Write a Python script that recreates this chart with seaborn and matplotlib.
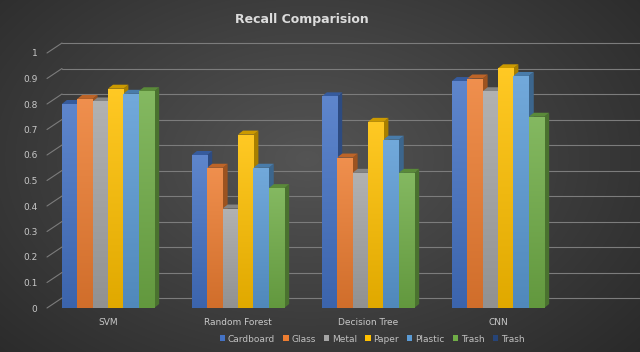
import numpy as np
import pandas as pd
import matplotlib
matplotlib.use("Agg")
import matplotlib.pyplot as plt
from matplotlib.patches import Polygon, Patch
from matplotlib.transforms import ScaledTranslation
from matplotlib.lines import Line2D
import matplotlib.colors as mcolors
import seaborn as sns

# ---- data ----
models = ["SVM", "Random Forest", "Decision Tree", "CNN"]
materials = ["Cardboard", "Glass", "Metal", "Paper", "Plastic", "Trash"]
cardboard = [0.80, 0.60, 0.83, 0.89]
glass = [0.82, 0.55, 0.59, 0.90]
metal = [0.81, 0.39, 0.53, 0.85]
paper = [0.86, 0.68, 0.73, 0.94]
plastic = [0.84, 0.55, 0.66, 0.91]
trash = [0.85, 0.47, 0.53, 0.75]
legend_labels = ["Cardboard", "Glass", "Metal", "Paper", "Plastic", "Trash", "Trash"]
y_ticks = [0, 0.1, 0.2, 0.3, 0.4, 0.5, 0.6, 0.7, 0.8, 0.9, 1]

colors = ["#4472C4", "#ED7D31", "#A5A5A5", "#FFC000", "#5B9BD5", "#70AD47", "#264478"]

series = [cardboard, glass, metal, paper, plastic, trash]
df = pd.DataFrame({
    "model": np.repeat([models], len(materials), axis=0).ravel(),
    "material": np.repeat(materials, len(models)),
    "recall": np.concatenate(series),
})

sns.set_theme(style="white")
plt.rcParams["font.family"] = ["DejaVu Sans"]

W, H = 640, 352
fig = plt.figure(figsize=(W / 100, H / 100), dpi=100)

# radial dark background
bg = fig.add_axes([0, 0, 1, 1], zorder=-10)
yy, xx = np.mgrid[0:H, 0:W]
r = np.sqrt(((xx - W * 0.48) / (W * 0.62)) ** 2 + ((yy - H * 0.45) / (H * 0.75)) ** 2)
shade = np.clip(0.33 - 0.15 * r, 0.15, 0.33)
bg.imshow(np.dstack([shade] * 3), aspect="auto", extent=[0, 1, 0, 1])
bg.axis("off")

left_px, right_px, bot_px, top_px = 47, 632, 308, 53
ax = fig.add_axes([left_px / W, (H - bot_px) / H, (right_px - left_px) / W, (bot_px - top_px) / H])
ax.patch.set_alpha(0)

sns.barplot(data=df, x="model", y="recall", hue="material", palette=colors[:6],
            width=0.71, gap=0, saturation=1, legend=False, ax=ax, zorder=3,
            edgecolor="none", linewidth=0)

ppu = 130.0
x0 = -(108 - left_px) / ppu
x1 = x0 + (right_px - left_px) / ppu

# back-wall gridlines with connectors
grid_col = "#7c7c7c"
dxp, dyp = 15, 10
back = ax.transData + ScaledTranslation(dxp / 100, dyp / 100, fig.dpi_scale_trans)
ax.set_xlim(x0, x1)
ax.set_ylim(0, 1)
for v in y_ticks:
    ax.plot([x0, x0 + 10], [v, v], color=grid_col, lw=0.8, transform=back,
            clip_on=False, zorder=1)
    p0 = ax.transData.transform((x0, v))
    p1 = p0 + np.array([dxp, dyp])
    f0 = fig.transFigure.inverted().transform(p0)
    f1 = fig.transFigure.inverted().transform(p1)
    fig.add_artist(Line2D([f0[0], f1[0]], [f0[1], f1[1]], color=grid_col, lw=0.8))

# depth faces and shading for each bar
ddx = 5 / ppu
ddy = 4 / (bot_px - top_px)
grad = np.linspace(1, 0, 64).reshape(-1, 1)
for p in list(ax.patches):
    fc = np.array(mcolors.to_rgb(p.get_facecolor()))
    l = p.get_x()
    rgt = l + p.get_width()
    h = p.get_height()
    side = Polygon([(rgt, 0), (rgt, h), (rgt + ddx, h + ddy), (rgt + ddx, ddy)],
                   closed=True, facecolor=fc * 0.66, edgecolor="none", zorder=2, clip_on=False)
    top = Polygon([(l, h), (rgt, h), (rgt + ddx, h + ddy), (l + ddx, h + ddy)],
                  closed=True, facecolor=fc * 0.80, edgecolor="none", zorder=2.5, clip_on=False)
    ax.add_patch(side)
    ax.add_patch(top)
    light = fc + (1 - fc) * 0.14
    dark = fc * 0.88
    cmap = mcolors.LinearSegmentedColormap.from_list("g", [dark, light])
    im = ax.imshow(grad, extent=[l, rgt, 0, h], cmap=cmap, vmin=0, vmax=1,
                   aspect="auto", zorder=3.1, interpolation="bilinear")
    im.set_clip_path(p)

ax.set_xlim(x0, x1)
ax.set_ylim(0, 1)
for s in ax.spines.values():
    s.set_visible(False)

ax.set_yticks(y_ticks)
ax.set_yticklabels([f"{v:g}" for v in y_ticks])
ax.tick_params(axis="y", length=0, pad=7, labelsize=6.5, labelcolor="#c8c8c8")
ax.tick_params(axis="x", length=0, pad=7, labelsize=6.5, labelcolor="#c8c8c8")
ax.set_xlabel("")
ax.set_ylabel("")
ax.grid(False)

fig.text(302 / W, 1 - 20 / H, "Recall Comparision", ha="center", va="center",
         fontsize=9, fontweight="bold", color="#dcdcdc")

handles = [Patch(facecolor=c, edgecolor="none") for c in colors]
fig.legend(handles, legend_labels, loc="center", bbox_to_anchor=(372 / W, 1 - 339 / H),
           ncol=7, frameon=False, fontsize=6.5, labelcolor="#c0c0c0",
           handlelength=0.6, handleheight=0.6, handletextpad=0.3, columnspacing=0.9)

fig.savefig("out.png", dpi=100)
